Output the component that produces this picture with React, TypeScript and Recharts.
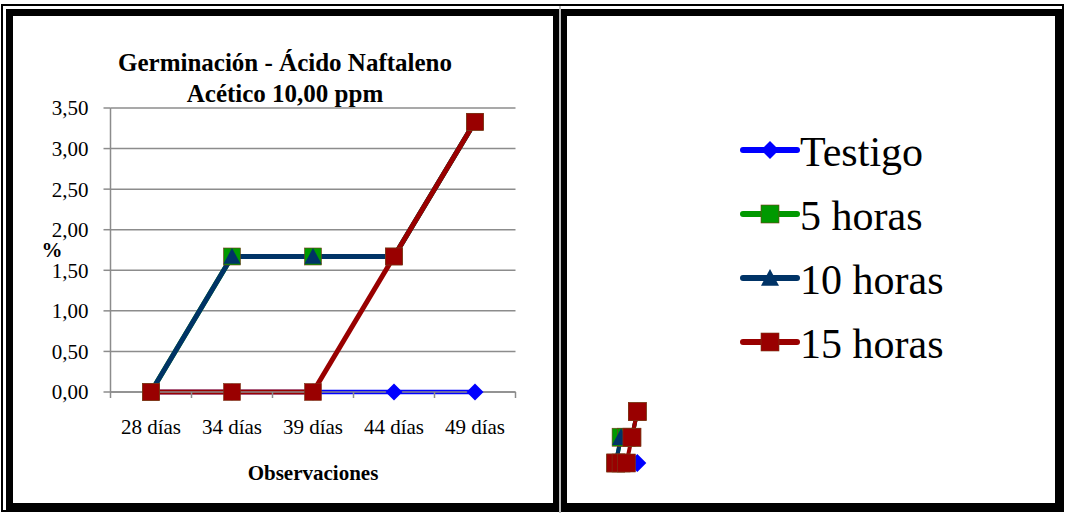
import React from 'react';
import { LineChart, Line, XAxis, YAxis, CartesianGrid, Legend } from 'recharts';

const categories = ['28 días', '34 días', '39 días', '44 días', '49 días'];
const testigo = [0, 0, 0, 0, 0];
const horas5 = [0, 1.67, 1.67, 1.67, 3.33];
const horas10 = [0, 1.67, 1.67, 1.67, 3.33];
const horas15 = [0, 0, 0, 1.67, 3.33];
const yTicks = [0, 0.5, 1, 1.5, 2, 2.5, 3, 3.5];
const seriesKeys = ['s0', 's1', 's2', 's3'];
const seriesNames = ['Testigo', '5 horas', '10 horas', '15 horas'];
const seriesColors = ['#0000FF', '#009900', '#003366', '#990000'];
const seriesMarkers = ['diamond', 'square', 'triangle', 'square'];

const data = categories.map((c, i) => ({
  x: i + 0.5,
  cat: c,
  s0: testigo[i],
  s1: horas5[i],
  s2: horas10[i],
  s3: horas15[i],
}));

const xTicks: number[] = [];
categories.forEach((_, i) => {
  xTicks.push(i);
  xTicks.push(i + 0.5);
});
xTicks.push(categories.length);

const SERIF = '"Liberation Serif", "Times New Roman", serif';

function Marker({ type, cx, cy, color, size }: any) {
  const h = size / 2;
  if (type === 'diamond') {
    return (
      <polygon
        points={`${cx},${cy - h} ${cx + h},${cy} ${cx},${cy + h} ${cx - h},${cy}`}
        fill={color}
      />
    );
  }
  if (type === 'triangle') {
    return (
      <polygon
        points={`${cx},${cy - h} ${cx + h},${cy + h * 0.85} ${cx - h},${cy + h * 0.85}`}
        fill={color}
      />
    );
  }
  return <rect x={cx - h} y={cy - h} width={size} height={size} fill={color} stroke="#7a3a1a" strokeWidth={0.6} />;
}

const makeDot = (idx: number, size: number) => (p: any) => {
  if (p.cx == null || p.cy == null) return <g key={`e${idx}-${p.index}`} />;
  return (
    <Marker
      key={`d${idx}-${p.index}`}
      type={seriesMarkers[idx]}
      cx={p.cx}
      cy={p.cy}
      color={seriesColors[idx]}
      size={size}
    />
  );
};

const XTick = (props: any) => {
  const { x, y, payload } = props;
  const v = payload.value as number;
  if (Number.isInteger(v)) {
    return <line x1={x} x2={x} y1={y} y2={y + 6} stroke="#8c8c8c" strokeWidth={1.5} />;
  }
  const label = categories[Math.floor(v)];
  return (
    <text x={x} y={y + 42} textAnchor="middle" fontSize={21} fontFamily={SERIF} fill="#000">
      {label}
    </text>
  );
};

const renderLegend = (props: any) => {
  const payload = [...(props.payload || [])].sort(
    (a: any, b: any) => seriesNames.indexOf(a.value) - seriesNames.indexOf(b.value)
  );
  return (
    <div style={{ fontFamily: SERIF }}>
      {payload.map((e: any) => {
        const idx = seriesNames.indexOf(e.value);
        return (
          <div key={e.value} style={{ display: 'flex', alignItems: 'center', height: 64 }}>
            <svg width={60} height={30} style={{ display: 'block' }}>
              <line x1={3} x2={57} y1={15} y2={15} stroke={seriesColors[idx]} strokeWidth={6} strokeLinecap="round" />
              <Marker type={seriesMarkers[idx]} cx={30} cy={15} color={seriesColors[idx]} size={18} />
            </svg>
            <span style={{ fontSize: 42, color: '#000', paddingTop: 3, lineHeight: '46px' }}>{e.value}</span>
          </div>
        );
      })}
    </div>
  );
};

const fmt = (v: number) => v.toFixed(2).replace('.', ',');

export default function App() {
  return (
    <div style={{ position: 'absolute', left: 0, top: 0, width: 1065, height: 513, background: '#fff', overflow: 'hidden' }}>
      {/* frames */}
      <div style={{ position: 'absolute', left: 1, top: 4, width: 1063, height: 508, border: '2px solid #000', boxSizing: 'border-box' }} />
      <div style={{ position: 'absolute', left: 6, top: 9, width: 554, height: 501, border: '7px solid #000', boxSizing: 'border-box', background: '#fff' }} />
      <div style={{ position: 'absolute', left: 560, top: 9, width: 502, height: 501, border: '7px solid #000', boxSizing: 'border-box', background: '#fff' }} />
      <div style={{ position: 'absolute', left: 559, top: 6, width: 2, height: 507, background: '#bbb' }} />

      {/* title and axis titles */}
      <div style={{ position: 'absolute', left: 85, top: 47, width: 400, textAlign: 'center', fontFamily: SERIF, fontWeight: 'bold', fontSize: 25, lineHeight: '31px', color: '#000' }}>
        Germinación - Ácido Naftaleno
        <br />
        Acético 10,00 ppm
      </div>
      <div style={{ position: 'absolute', left: 40, top: 238, width: 24, textAlign: 'center', fontFamily: SERIF, fontWeight: 'bold', fontSize: 21, lineHeight: '24px', color: '#000' }}>
        %
      </div>
      <div style={{ position: 'absolute', left: 213, top: 461, width: 200, textAlign: 'center', fontFamily: SERIF, fontWeight: 'bold', fontSize: 21, lineHeight: '24px', color: '#000' }}>
        Observaciones
      </div>

      {/* main chart */}
      <div style={{ position: 'absolute', left: 0, top: 0 }}>
        <LineChart width={1065} height={513} data={data} margin={{ top: 108, right: 549.5, left: 50.5, bottom: 81 }}>
          <CartesianGrid horizontal vertical={false} stroke="#8c8c8c" strokeWidth={1.5} />
          <XAxis
            type="number"
            dataKey="x"
            domain={[0, categories.length]}
            ticks={xTicks}
            interval={0}
            tick={<XTick />}
            tickLine={false}
            tickSize={0}
            tickMargin={0}
            height={40}
            axisLine={{ stroke: '#8c8c8c', strokeWidth: 1.5 }}
          />
          <YAxis
            type="number"
            domain={[0, 3.5]}
            ticks={yTicks}
            interval={0}
            width={60}
            tickFormatter={fmt}
            tickSize={7}
            tickMargin={15}
            tickLine={{ stroke: '#8c8c8c', strokeWidth: 1.5 }}
            axisLine={{ stroke: '#8c8c8c', strokeWidth: 1.5 }}
            tick={{ fill: '#000', fontSize: 21, fontFamily: SERIF }}
          />
          {seriesKeys.map((k, i) => (
            <Line
              key={k}
              dataKey={k}
              name={seriesNames[i]}
              stroke={seriesColors[i]}
              strokeWidth={i === 0 ? 4.5 : 5}
              dot={makeDot(i, 17)}
              activeDot={false}
              isAnimationActive={false}
              type="linear"
            />
          ))}
          <Legend
            layout="vertical"
            align="center"
            verticalAlign="middle"
            content={renderLegend}
            wrapperStyle={{ left: 740, top: 118, width: 300 }}
          />
        </LineChart>
      </div>

      {/* thumbnail chart */}
      <div style={{ position: 'absolute', left: 593, top: 389 }}>
        <LineChart width={67} height={94} data={data} margin={{ top: 20, right: 20, left: 20, bottom: 20 }}>
          <XAxis type="number" dataKey="x" domain={[0, categories.length]} hide />
          <YAxis type="number" domain={[0, 3.5]} hide />
          {seriesKeys.map((k, i) => (
            <Line
              key={k}
              dataKey={k}
              stroke={seriesColors[i]}
              strokeWidth={4}
              dot={makeDot(i, 18)}
              activeDot={false}
              isAnimationActive={false}
              type="linear"
            />
          ))}
        </LineChart>
      </div>
    </div>
  );
}
